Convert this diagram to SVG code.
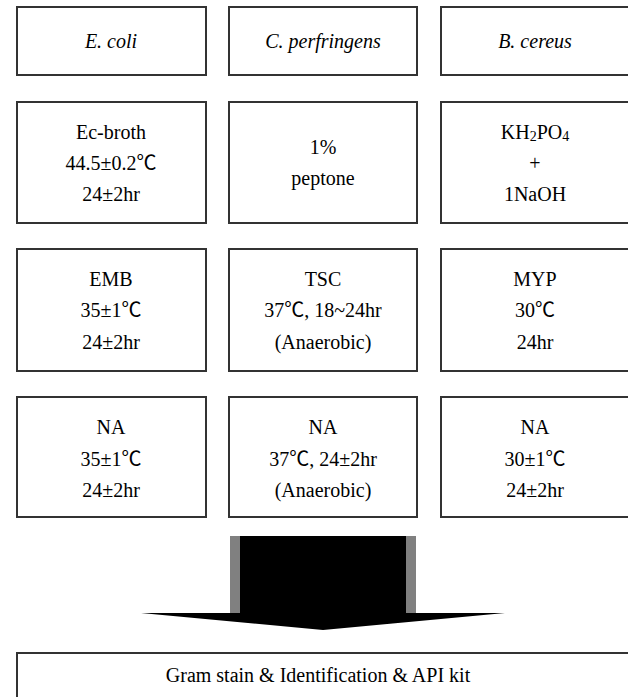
<svg xmlns="http://www.w3.org/2000/svg" width="628" height="697" viewBox="0 0 628 697">
<style>
rect.box{fill:#fff;stroke:#333;stroke-width:2}
text{font-family:"Liberation Serif","Noto Sans CJK KR",serif;font-size:20px;fill:#000;text-anchor:middle}
text.it{font-style:italic}
</style>
<rect width="628" height="697" fill="#fff"/>
<g id="n-ecoli"><rect class="box" x="17" y="7" width="189" height="68"/><text class="it" x="111" y="48">E.  coli</text></g>
<g id="n-cperf"><rect class="box" x="229" y="7" width="188" height="68"/><text class="it" x="323" y="48">C.  perfringens</text></g>
<g id="n-bcer"><rect class="box" x="441" y="7" width="200" height="68"/><text class="it" x="535" y="48">B.  cereus</text></g>

<g id="n-ecbroth"><rect class="box" x="17" y="102" width="189" height="121"/><text x="111" y="139">Ec-broth</text><text x="111" y="170">44.5±0.2℃</text><text x="111" y="201">24±2hr</text></g>
<g id="n-peptone"><rect class="box" x="229" y="102" width="188" height="121"/><text x="323" y="154">1%</text><text x="323" y="185">peptone</text></g>
<g id="n-kh2po4"><rect class="box" x="441" y="102" width="200" height="121"/><text x="535" y="139">KH<tspan font-size="14" dy="2">2</tspan><tspan dy="-2">PO</tspan><tspan font-size="14" dy="2">4</tspan></text><text x="535" y="170">+</text><text x="535" y="201">1NaOH</text></g>

<g id="n-emb"><rect class="box" x="17" y="249" width="189" height="122"/><text x="111" y="286">EMB</text><text x="111" y="317">35±1℃</text><text x="111" y="349">24±2hr</text></g>
<g id="n-tsc"><rect class="box" x="229" y="249" width="188" height="122"/><text x="323" y="286">TSC</text><text x="323" y="317">37℃,  18~24hr</text><text x="323" y="349">(Anaerobic)</text></g>
<g id="n-myp"><rect class="box" x="441" y="249" width="200" height="122"/><text x="535" y="286">MYP</text><text x="535" y="317">30℃</text><text x="535" y="349">24hr</text></g>

<g id="n-na1"><rect class="box" x="17" y="397" width="189" height="120"/><text x="111" y="434">NA</text><text x="111" y="466">35±1℃</text><text x="111" y="497">24±2hr</text></g>
<g id="n-na2"><rect class="box" x="229" y="397" width="188" height="120"/><text x="323" y="434">NA</text><text x="323" y="466">37℃,  24±2hr</text><text x="323" y="497">(Anaerobic)</text></g>
<g id="n-na3"><rect class="box" x="441" y="397" width="200" height="120"/><text x="535" y="434">NA</text><text x="535" y="466">30±1℃</text><text x="535" y="497">24±2hr</text></g>

<g id="connectors">
<rect x="230" y="536" width="10" height="77" fill="#808080"/>
<rect x="406" y="536" width="10" height="77" fill="#808080"/>
<rect x="240" y="536" width="166" height="78" fill="#000"/>
<polygon points="141,613 505,613 323,630" fill="#000"/>
</g>

<g id="n-final"><rect class="box" x="17" y="653" width="630" height="60"/><text x="318" y="682">Gram  stain  &amp;  Identification  &amp;  API  kit</text></g>
</svg>
